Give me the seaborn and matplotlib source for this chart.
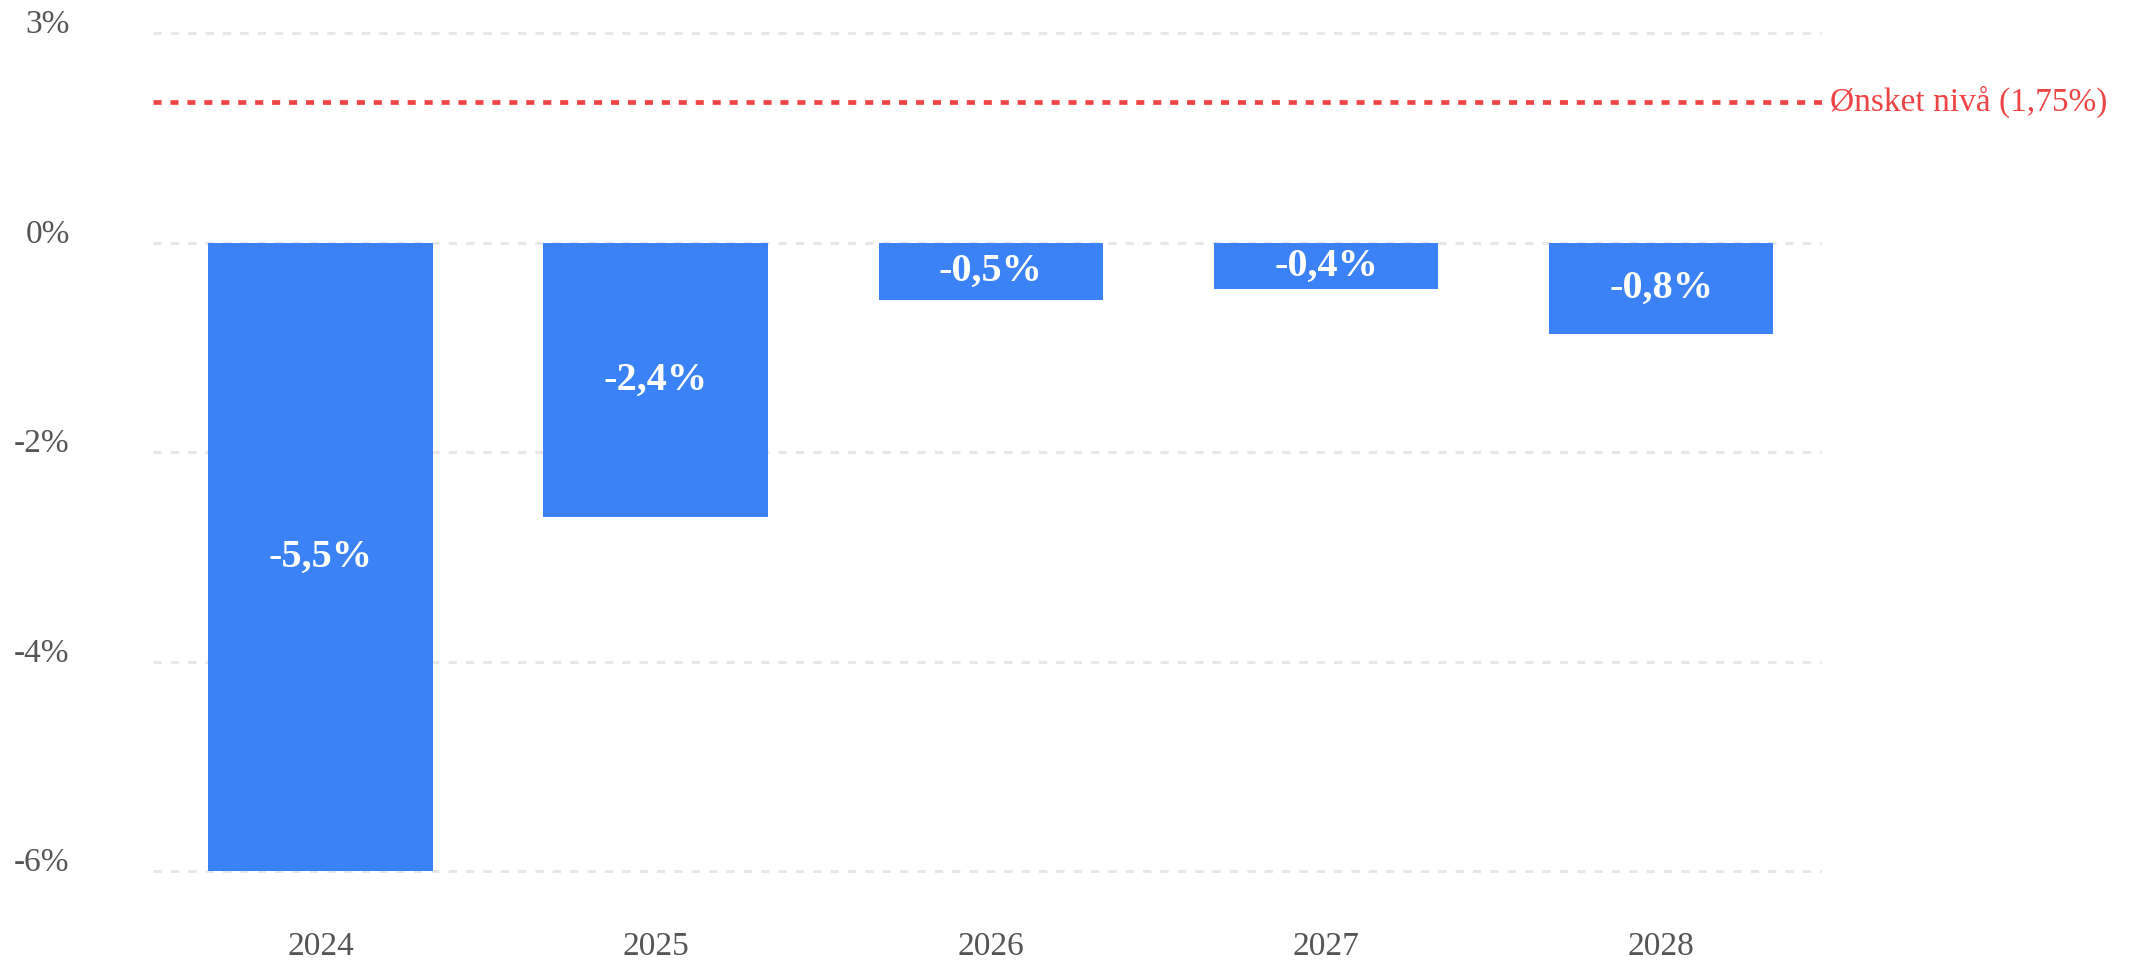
import matplotlib
matplotlib.use("Agg")
import matplotlib.pyplot as plt
import seaborn as sns
import pandas as pd

# ---- data ----
years = ["2024", "2025", "2026", "2027", "2028"]
values = [-5.5, -2.4, -0.5, -0.4, -0.8]          # percent, as labelled on the bars
ytick_labels = ["3%", "0%", "-2%", "-4%", "-6%"]
ytick_pos = [1.84, 0.0, -1.83, -3.67, -5.5]       # where the reference draws those gridlines
target_value = 1.75
target_pos = 1.235                                # where the reference draws the target line

BLUE = "#3b82f6"
RED = "#ef4444"
GRID = "#e5e7eb"
TICK = "#555555"

sns.set_theme(style="white")
plt.rcParams["font.family"] = ["Liberation Serif", "DejaVu Serif"]
plt.rcParams["lines.scale_dashes"] = False

fig = plt.figure(figsize=(21.34, 9.6), dpi=100)
ax = fig.add_axes([0.0717, 0.0807, 0.7821, 0.898])

df = pd.DataFrame({"year": years, "value": values})
sns.barplot(data=df, x="year", y="value", color=BLUE, saturation=1,
            width=0.67, ax=ax, zorder=2, edgecolor="none")

ax.set_xlim(-0.5, 4.48)
ax.set_ylim(-5.6, 1.95)

# gridlines
for yp in ytick_pos:
    ax.axhline(yp, color=GRID, lw=2.2, linestyle=(0, (6, 6.5)), zorder=1)

# target line
ax.axhline(target_pos, color=RED, lw=3.4, linestyle=(0, (5.8, 6.4)), zorder=3)
ax.text(1.005, target_pos, f"Ønsket nivå ({str(target_value).replace('.', ',')}%)",
        transform=ax.get_yaxis_transform(), color=RED, fontsize=24,
        va="center", ha="left", clip_on=False)

# bar labels
for p, v in zip(ax.patches, values):
    cx = p.get_x() + p.get_width() / 2
    cy = p.get_y() + p.get_height() / 2
    ax.text(cx, cy, f"{v:.1f}%".replace(".", ","), ha="center", va="center",
            color="white", fontsize=29, fontweight="bold", zorder=4)

ax.set_yticks(ytick_pos)
ax.set_yticklabels(ytick_labels)
for lab in ax.get_yticklabels():
    lab.set_va("baseline")
ax.tick_params(axis="y", length=0, pad=60, labelsize=24, labelcolor=TICK)
ax.tick_params(axis="x", length=0, pad=35, labelsize=24, labelcolor=TICK)
ax.set_xlabel("")
ax.set_ylabel("")
ax.grid(False)
for s in ax.spines.values():
    s.set_visible(False)

fig.savefig("out.png", dpi=100, facecolor="white")
